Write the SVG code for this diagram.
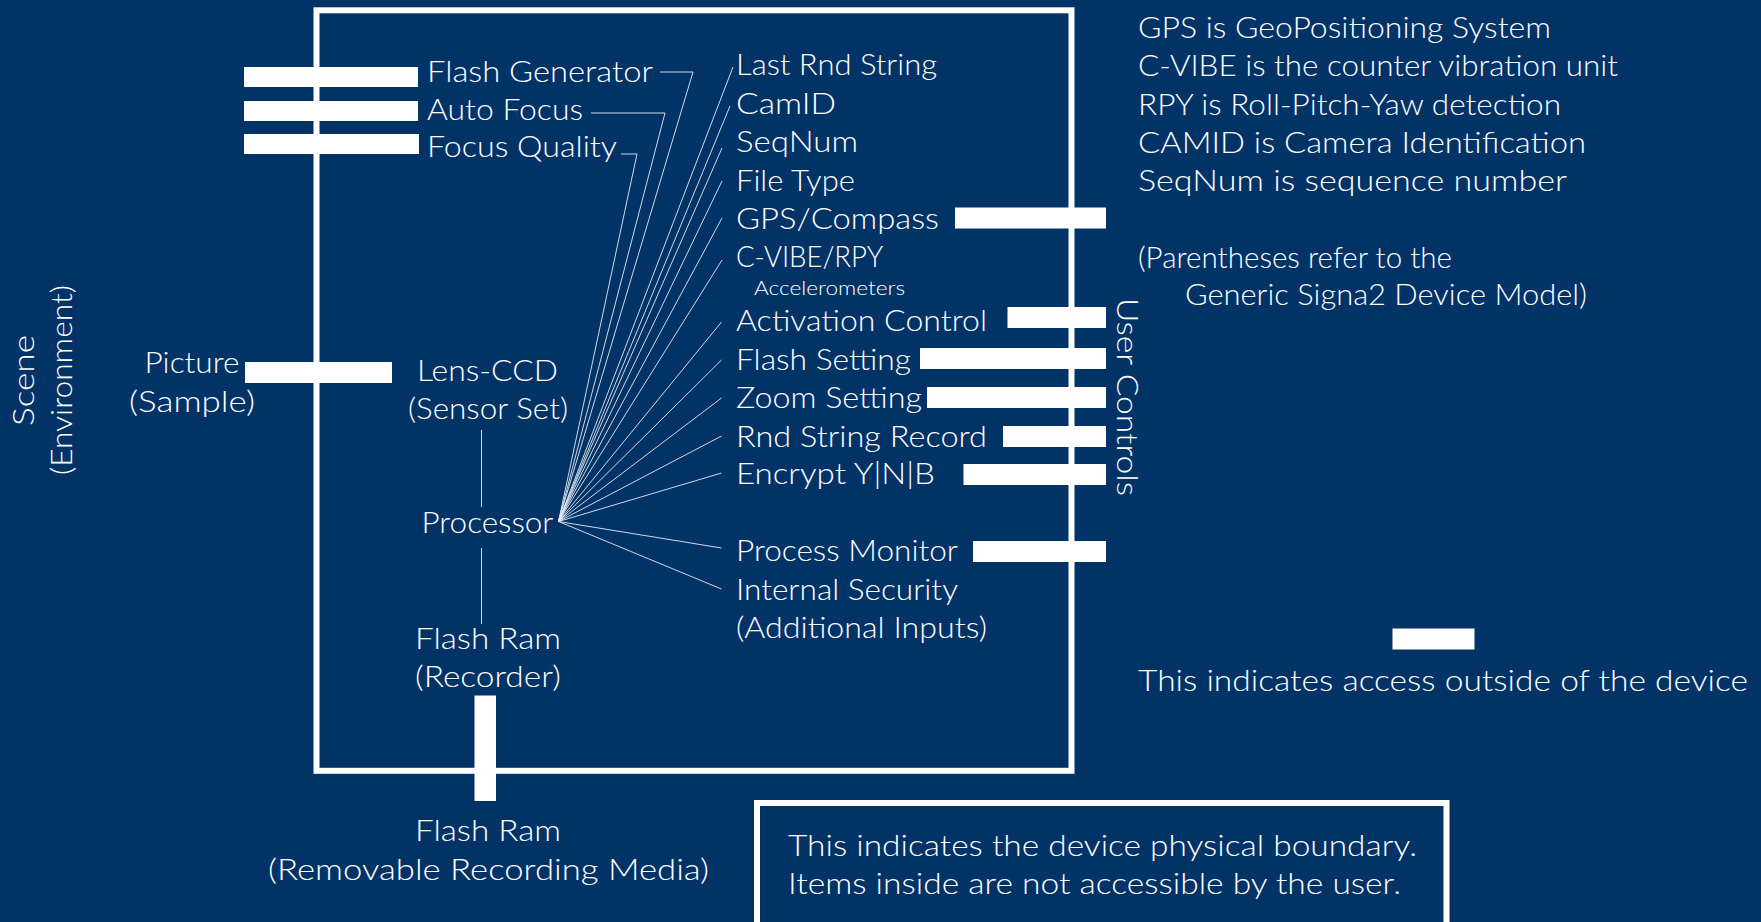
<svg xmlns="http://www.w3.org/2000/svg" width="1761" height="922" viewBox="0 0 1761 922">
<style>
.t{font-family:Lato,"Liberation Sans",sans-serif;font-weight:300;font-size:30px;fill:#ffffff}
.s{font-size:19px}
.bar{fill:#ffffff}
.ln{stroke:#e6ebf3;stroke-width:0.9;fill:none}
.border{fill:none;stroke:#ffffff;stroke-width:6}
</style>
<rect x="0" y="0" width="1761" height="922" fill="#023366"/>
<g id="device-boundary"><rect class="border" x="316.5" y="10.3" width="755" height="760.5"/></g>
<g id="connectors">
<polyline class="ln" points="660,72 693,72 558.5,521.5"/>
<polyline class="ln" points="591,113 665,113 558.5,521.5"/>
<polyline class="ln" points="621,154 637,154 558.5,521.5"/>
<line class="ln" x1="558.5" y1="521.5" x2="733" y2="67"/>
<line class="ln" x1="558.5" y1="521.5" x2="730" y2="106"/>
<line class="ln" x1="558.5" y1="521.5" x2="722" y2="148"/>
<line class="ln" x1="558.5" y1="521.5" x2="722" y2="181"/>
<line class="ln" x1="558.5" y1="521.5" x2="722" y2="218"/>
<line class="ln" x1="558.5" y1="521.5" x2="722" y2="260"/>
<line class="ln" x1="558.5" y1="521.5" x2="721.5" y2="322"/>
<line class="ln" x1="558.5" y1="521.5" x2="721.5" y2="360"/>
<line class="ln" x1="558.5" y1="521.5" x2="721.5" y2="398"/>
<line class="ln" x1="558.5" y1="521.5" x2="721.5" y2="436"/>
<line class="ln" x1="558.5" y1="521.5" x2="721.5" y2="473"/>
<line class="ln" x1="558.5" y1="521.5" x2="721.5" y2="548"/>
<line class="ln" x1="558.5" y1="521.5" x2="721.5" y2="589"/>
<line class="ln" x1="481.5" y1="430" x2="481.5" y2="507"/>
<line class="ln" x1="481.5" y1="548" x2="481.5" y2="624"/>
</g>
<g id="scene"><text class="t" transform="translate(34,380.5) rotate(-90)" text-anchor="middle" textLength="91" lengthAdjust="spacingAndGlyphs">Scene</text><text class="t" transform="translate(72,380) rotate(-90)" text-anchor="middle" textLength="190" lengthAdjust="spacingAndGlyphs">(Environment)</text></g>
<g id="flash-generator"><rect class="bar" x="244" y="67" width="174" height="20"/><text class="t" x="427" y="82" textLength="226" lengthAdjust="spacingAndGlyphs">Flash Generator</text></g>
<g id="auto-focus"><rect class="bar" x="244" y="101" width="174" height="20"/><text class="t" x="427" y="120" textLength="156" lengthAdjust="spacingAndGlyphs">Auto Focus</text></g>
<g id="focus-quality"><rect class="bar" x="244" y="134" width="175" height="20"/><text class="t" x="427" y="157" textLength="190" lengthAdjust="spacingAndGlyphs">Focus Quality</text></g>
<g id="picture"><rect class="bar" x="245" y="362" width="147" height="21"/><text class="t" x="192" y="373" text-anchor="middle" textLength="95" lengthAdjust="spacingAndGlyphs">Picture</text><text class="t" x="192" y="412" text-anchor="middle" textLength="126" lengthAdjust="spacingAndGlyphs">(Sample)</text></g>
<g id="lens-ccd"><text class="t" x="487.5" y="381" text-anchor="middle" textLength="141" lengthAdjust="spacingAndGlyphs">Lens-CCD</text><text class="t" x="488" y="419" text-anchor="middle" textLength="160" lengthAdjust="spacingAndGlyphs">(Sensor Set)</text></g>
<g id="processor"><text class="t" x="421.5" y="533" textLength="132" lengthAdjust="spacingAndGlyphs">Processor</text></g>
<g id="flash-ram-recorder"><text class="t" x="415" y="649" textLength="146" lengthAdjust="spacingAndGlyphs">Flash Ram</text><text class="t" x="415" y="687" textLength="146" lengthAdjust="spacingAndGlyphs">(Recorder)</text></g>
<g id="flash-ram-removable"><rect class="bar" x="474.5" y="695.5" width="21.5" height="105.5"/><text class="t" x="415" y="841" textLength="146" lengthAdjust="spacingAndGlyphs">Flash Ram</text><text class="t" x="268" y="880" textLength="441" lengthAdjust="spacingAndGlyphs">(Removable Recording Media)</text></g>
<g id="last-rnd-string"><text class="t" x="736" y="75" textLength="201" lengthAdjust="spacingAndGlyphs">Last Rnd String</text></g>
<g id="camid"><text class="t" x="736" y="114" textLength="100" lengthAdjust="spacingAndGlyphs">CamID</text></g>
<g id="seqnum"><text class="t" x="736" y="152" textLength="122" lengthAdjust="spacingAndGlyphs">SeqNum</text></g>
<g id="file-type"><text class="t" x="736" y="191" textLength="119" lengthAdjust="spacingAndGlyphs">File Type</text></g>
<g id="gps-compass"><rect class="bar" x="955" y="207.5" width="151" height="21"/><text class="t" x="736" y="229" textLength="203" lengthAdjust="spacingAndGlyphs">GPS/Compass</text></g>
<g id="cvibe-rpy"><text class="t" x="736" y="267" textLength="147" lengthAdjust="spacingAndGlyphs">C-VIBE/RPY</text><text class="t s" x="754" y="295" textLength="151" lengthAdjust="spacingAndGlyphs">Accelerometers</text></g>
<g id="activation-control"><rect class="bar" x="1007.5" y="307" width="98.5" height="21"/><text class="t" x="736" y="331" textLength="251" lengthAdjust="spacingAndGlyphs">Activation Control</text></g>
<g id="flash-setting"><rect class="bar" x="920" y="348" width="186" height="21"/><text class="t" x="736" y="370" textLength="175" lengthAdjust="spacingAndGlyphs">Flash Setting</text></g>
<g id="zoom-setting"><rect class="bar" x="927" y="387" width="179" height="21"/><text class="t" x="736" y="408" textLength="186" lengthAdjust="spacingAndGlyphs">Zoom Setting</text></g>
<g id="rnd-string-record"><rect class="bar" x="1003" y="426" width="103" height="21"/><text class="t" x="736" y="447" textLength="251" lengthAdjust="spacingAndGlyphs">Rnd String Record</text></g>
<g id="encrypt"><rect class="bar" x="963.5" y="464" width="142.5" height="21"/><text class="t" x="736" y="484" textLength="199" lengthAdjust="spacingAndGlyphs">Encrypt Y|N|B</text></g>
<g id="process-monitor"><rect class="bar" x="973" y="541" width="133" height="21"/><text class="t" x="736" y="561" textLength="222" lengthAdjust="spacingAndGlyphs">Process Monitor</text></g>
<g id="internal-security"><text class="t" x="736" y="600" textLength="222" lengthAdjust="spacingAndGlyphs">Internal Security</text><text class="t" x="736" y="638" textLength="251" lengthAdjust="spacingAndGlyphs">(Additional Inputs)</text></g>
<g id="user-controls"><text class="t" transform="translate(1117,397) rotate(90)" text-anchor="middle" textLength="198" lengthAdjust="spacingAndGlyphs">User Controls</text></g>
<g id="notes">
<text class="t" x="1138" y="37.5" textLength="413" lengthAdjust="spacingAndGlyphs">GPS is GeoPositioning System</text>
<text class="t" x="1138" y="76" textLength="480" lengthAdjust="spacingAndGlyphs">C-VIBE is the counter vibration unit</text>
<text class="t" x="1138" y="114.5" textLength="423" lengthAdjust="spacingAndGlyphs">RPY is Roll-Pitch-Yaw detection</text>
<text class="t" x="1138" y="152.5" textLength="448" lengthAdjust="spacingAndGlyphs">CAMID is Camera Identification</text>
<text class="t" x="1138" y="191" textLength="429" lengthAdjust="spacingAndGlyphs">SeqNum is sequence number</text>
<text class="t" x="1138" y="267.5" textLength="314" lengthAdjust="spacingAndGlyphs">(Parentheses refer to the</text>
<text class="t" x="1185" y="305" textLength="402" lengthAdjust="spacingAndGlyphs">Generic Signa2 Device Model)</text>
</g>
<g id="legend-access"><rect class="bar" x="1392.5" y="628.5" width="82" height="21"/><text class="t" x="1138" y="691" textLength="610" lengthAdjust="spacingAndGlyphs">This indicates access outside of the device</text></g>
<g id="legend-boundary"><rect class="border" x="757" y="803" width="689.5" height="200"/><text class="t" x="788" y="856" textLength="629" lengthAdjust="spacingAndGlyphs">This indicates the device physical boundary.</text><text class="t" x="788" y="894" textLength="613" lengthAdjust="spacingAndGlyphs">Items inside are not accessible by the user.</text></g>
</svg>
